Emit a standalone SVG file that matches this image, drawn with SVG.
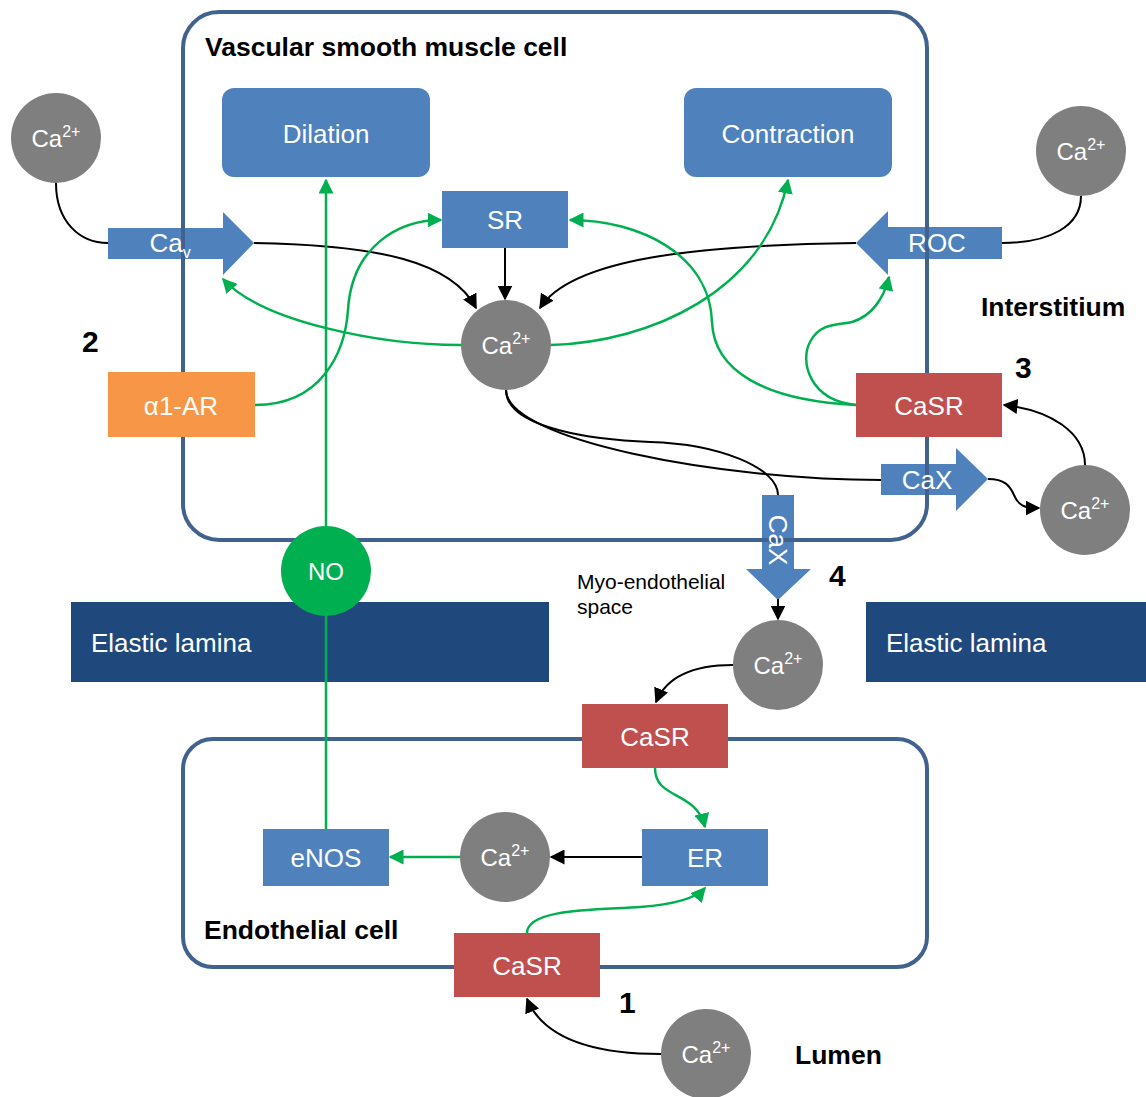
<svg xmlns="http://www.w3.org/2000/svg" width="1146" height="1097" viewBox="0 0 1146 1097">
<style>
text{font-family:"Liberation Sans",Arial,sans-serif;}
.w{fill:#fff;font-size:26px;text-anchor:middle;}
.ca{fill:#fff;font-size:24px;text-anchor:middle;}
.b{fill:#000;font-size:26.5px;font-weight:bold;}
.num{fill:#000;font-size:30px;font-weight:bold;}
.n{fill:#000;font-size:21px;}
.blue{fill:#4F81BD;}
.red{fill:#C0504D;}
.gray{fill:#7F7F7F;}
.lam{fill:#1F497D;}
.cell{fill:none;stroke:#41628F;stroke-width:4;}
.k{fill:none;stroke:#000;stroke-width:2;}
.g{fill:none;stroke:#00B050;stroke-width:2.5;}
</style>
<defs>
<marker id="ak" viewBox="0 0 10 10" refX="9" refY="5" markerUnits="userSpaceOnUse" markerWidth="15" markerHeight="15" orient="auto"><path d="M0,0 L10,5 L0,10 z" fill="#000"/></marker>
<marker id="ag" viewBox="0 0 10 10" refX="9" refY="5" markerUnits="userSpaceOnUse" markerWidth="15" markerHeight="15" orient="auto"><path d="M0,0 L10,5 L0,10 z" fill="#00B050"/></marker>
</defs>

<!-- Elastic laminae -->
<g id="lamina-left"><rect class="lam" x="71" y="602" width="478" height="80"/><text x="91" y="652" fill="#fff" font-size="26">Elastic lamina</text></g>
<g id="lamina-right"><rect class="lam" x="866" y="602" width="280" height="80"/><text x="886" y="652" fill="#fff" font-size="26">Elastic lamina</text></g>

<!-- Channel shapes (under the cell membranes) -->
<g id="cav"><polygon class="blue" points="108,228 223,228 223,212 254,243 223,275 223,259 108,259"/></g>
<g id="roc"><polygon class="blue" points="1002,227 888,227 888,211 856,243 888,275 888,259 1002,259"/></g>
<g id="cax-h"><polygon class="blue" points="881,464 956,464 956,448 988,479 956,511 956,495 881,495"/></g>
<g id="cax-v"><polygon class="blue" points="762,495 794,495 794,569 811,569 778,600 746,569 762,569"/></g>

<!-- Cells -->
<g id="vsmc"><rect class="cell" x="183" y="12" width="744" height="528" rx="36"/><text x="205" y="56" class="b">Vascular smooth muscle cell</text></g>
<g id="endothelial"><rect class="cell" x="183" y="739" width="744" height="228" rx="30"/><text x="204" y="939" class="b">Endothelial cell</text></g>

<!-- Channel labels -->
<g id="channel-labels">
<text x="170" y="252" class="w">Ca<tspan font-size="16" dy="6">v</tspan></text>
<text x="937" y="252" class="w">ROC</text>
<text x="927" y="489" class="w">CaX</text>
<text transform="translate(778,540) rotate(90)" x="0" y="9" class="w">CaX</text>
</g>

<!-- Connectors -->
<g id="connectors">
<path class="k" d="M56,183 C56,222 80,243 108,243"/>
<path class="k" d="M254,243 C380,245 452,262 476,308" marker-end="url(#ak)"/>
<path class="k" d="M505,248 L505,299" marker-end="url(#ak)"/>
<path class="k" d="M856,243 C700,245 572,258 540,308" marker-end="url(#ak)"/>
<path class="k" d="M1081,196 C1081,226 1050,243 1002,243"/>
<path class="k" d="M506,390 C506,430 600,440 650,442 C720,444 778,468 778,495"/>
<path class="k" d="M506,390 C506,440 720,480 881,480"/>
<path class="k" d="M988,479 C1005,479 1010,486 1014,495 C1019,507 1026,508 1039,508" marker-end="url(#ak)"/>
<path class="k" d="M1085,465 C1085,432 1050,410 1004,405" marker-end="url(#ak)"/>
<path class="k" d="M778,599 L778,619" marker-end="url(#ak)"/>
<path class="k" d="M733,665 C692,665 666,678 656,702" marker-end="url(#ak)"/>
<path class="k" d="M642,857 L551,857" marker-end="url(#ak)"/>
<path class="k" d="M661,1054 C600,1054 545,1042 527,999" marker-end="url(#ak)"/>

<path class="g" d="M326,829 L326,180" marker-end="url(#ag)"/>
<path class="g" d="M461,345 C380,345 262,322 223,279" marker-end="url(#ag)"/>
<path class="g" d="M551,345 C650,342 765,292 788,180" marker-end="url(#ag)"/>
<path class="g" d="M255,405 C322,405 345,352 348,310 C352,245 400,220 441,220" marker-end="url(#ag)"/>
<path class="g" d="M856,405 C762,400 714,370 712,322 C710,255 640,220 570,220" marker-end="url(#ag)"/>
<path class="g" d="M856,405 C808,400 800,360 810,342 C820,322 840,325 852,322 C872,316 884,298 889,277" marker-end="url(#ag)"/>
<path class="g" d="M655,768 C655,800 696,790 705,827" marker-end="url(#ag)"/>
<path class="g" d="M460,857 L390,857" marker-end="url(#ag)"/>
<path class="g" d="M527,933 C527,908 600,910 640,907 C680,904 698,896 705,888" marker-end="url(#ag)"/>
</g>

<!-- Nodes -->
<g id="dilation"><rect class="blue" x="222" y="88" width="208" height="89" rx="12"/><text x="326" y="143" class="w">Dilation</text></g>
<g id="contraction"><rect class="blue" x="684" y="88" width="208" height="89" rx="12"/><text x="788" y="143" class="w">Contraction</text></g>
<g id="sr"><rect class="blue" x="442" y="191" width="126" height="57"/><text x="505" y="229" class="w">SR</text></g>
<g id="a1ar"><rect fill="#F79646" x="108" y="372" width="147" height="65"/><text x="181" y="415" class="w">α1-AR</text></g>
<g id="casr-vsmc"><rect class="red" x="856" y="373" width="146" height="64"/><text x="929" y="415" class="w">CaSR</text></g>
<g id="casr-myo"><rect class="red" x="582" y="704" width="146" height="64"/><text x="655" y="746" class="w">CaSR</text></g>
<g id="er"><rect class="blue" x="642" y="829" width="126" height="57"/><text x="705" y="867" class="w">ER</text></g>
<g id="enos"><rect class="blue" x="263" y="829" width="126" height="57"/><text x="326" y="867" class="w">eNOS</text></g>
<g id="casr-lumen"><rect class="red" x="454" y="933" width="146" height="64"/><text x="527" y="975" class="w">CaSR</text></g>
<g id="no"><circle cx="326" cy="571" r="45" fill="#00B050"/><text x="326" y="580" class="ca">NO</text></g>

<g id="ca-topleft"><circle class="gray" cx="56" cy="138" r="45"/><text x="56" y="147" class="ca">Ca<tspan font-size="16" dy="-10">2+</tspan></text></g>
<g id="ca-center"><circle class="gray" cx="506" cy="345" r="45"/><text x="506" y="354" class="ca">Ca<tspan font-size="16" dy="-10">2+</tspan></text></g>
<g id="ca-topright"><circle class="gray" cx="1081" cy="151" r="45"/><text x="1081" y="160" class="ca">Ca<tspan font-size="16" dy="-10">2+</tspan></text></g>
<g id="ca-right"><circle class="gray" cx="1085" cy="510" r="45"/><text x="1085" y="519" class="ca">Ca<tspan font-size="16" dy="-10">2+</tspan></text></g>
<g id="ca-myo"><circle class="gray" cx="778" cy="665" r="45"/><text x="778" y="674" class="ca">Ca<tspan font-size="16" dy="-10">2+</tspan></text></g>
<g id="ca-endo"><circle class="gray" cx="505" cy="857" r="45"/><text x="505" y="866" class="ca">Ca<tspan font-size="16" dy="-10">2+</tspan></text></g>
<g id="ca-lumen"><circle class="gray" cx="706" cy="1054" r="45"/><text x="706" y="1063" class="ca">Ca<tspan font-size="16" dy="-10">2+</tspan></text></g>

<!-- Labels -->
<g id="labels">
<text x="981" y="316" class="b">Interstitium</text>
<text x="795" y="1064" class="b">Lumen</text>
<text x="82" y="352" class="num">2</text>
<text x="1015" y="378" class="num">3</text>
<text x="829" y="586" class="num">4</text>
<text x="619" y="1013" class="num">1</text>
<text x="577" y="589" class="n">Myo-endothelial</text>
<text x="577" y="614" class="n">space</text>
</g>
</svg>
